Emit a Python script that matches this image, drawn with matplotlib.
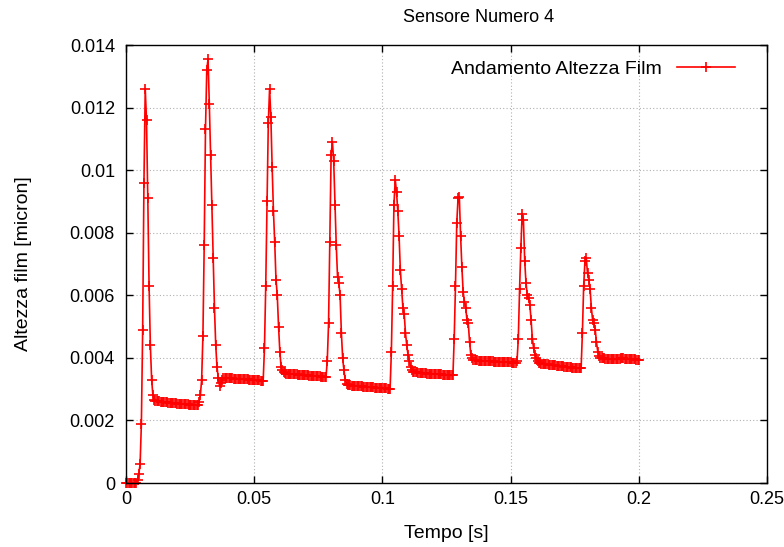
import numpy as np
import matplotlib.pyplot as plt

# altezza del film (unita' 1e-5 micron), un campione ogni 0.5 ms
altezza_e5 = [
    0, 0, 0, 0, 0, 0, 0, 0, 0, 10,                              # 0.000
    30, 60, 190, 490, 960, 1260, 1160, 910, 630, 440,           # 0.005
    330, 280, 265, 262, 262, 261, 261, 260, 260, 259,           # 0.010
    259, 258, 258, 257, 257, 256, 256, 256, 255, 255,           # 0.015
    254, 254, 253, 253, 252, 252, 251, 251, 251, 250,           # 0.020
    250, 250, 249, 249, 249, 248, 248, 260, 280, 330,           # 0.025
    470, 760, 1130, 1320, 1355, 1210, 1050, 890, 720, 560,      # 0.030
    440, 370, 335, 310, 320, 330, 336, 337, 337, 336,           # 0.035
    336, 335, 335, 335, 334, 334, 334, 333, 333, 333,           # 0.040
    332, 332, 332, 331, 331, 331, 330, 330, 330, 329,           # 0.045
    329, 329, 328, 328, 328, 327, 327, 327, 430, 630,           # 0.050
    900, 1150, 1260, 1170, 1010, 870, 770, 650, 600, 500,       # 0.055
    420, 370, 360, 355, 352, 350, 350, 349, 349, 348,           # 0.060
    348, 347, 347, 347, 346, 346, 346, 345, 345, 345,           # 0.065
    344, 344, 344, 343, 343, 343, 342, 342, 342, 341,           # 0.070
    341, 341, 340, 340, 340, 339, 339, 390, 510, 770,           # 0.075
    1050, 1090, 1030, 890, 760, 660, 640, 600, 480, 400,        # 0.080
    360, 330, 318, 313, 312, 312, 311, 311, 311, 310,           # 0.085
    310, 310, 309, 309, 309, 308, 308, 308, 307, 307,           # 0.090
    307, 306, 306, 306, 305, 305, 305, 304, 304, 304,           # 0.095
    303, 303, 303, 303, 302, 302, 302, 420, 630, 890,           # 0.100
    970, 930, 870, 790, 680, 620, 560, 540, 480, 440,           # 0.105
    410, 390, 370, 360, 356, 355, 354, 354, 353, 353,           # 0.110
    352, 352, 352, 351, 351, 350, 350, 350, 349, 349,           # 0.115
    349, 348, 348, 348, 347, 347, 347, 346, 346, 346,           # 0.120
    345, 345, 345, 344, 344, 344, 460, 630, 830, 910,           # 0.125
    915, 790, 690, 610, 580, 560, 520, 510, 450, 410,           # 0.130
    400, 393, 392, 392, 392, 391, 391, 391, 391, 390,           # 0.135
    390, 390, 390, 389, 389, 389, 389, 388, 388, 388,           # 0.140
    388, 388, 387, 387, 387, 387, 386, 386, 386, 386,           # 0.145
    386, 385, 385, 385, 385, 390, 460, 620, 750, 860,           # 0.150
    840, 710, 640, 600, 590, 570, 520, 460, 430, 410,           # 0.155
    400, 390, 383, 382, 381, 381, 380, 380, 379, 379,           # 0.160
    378, 378, 377, 377, 376, 376, 375, 375, 374, 374,           # 0.165
    373, 373, 372, 372, 371, 371, 370, 370, 369, 369,           # 0.170
    368, 368, 367, 367, 366, 366, 480, 630, 710, 720,           # 0.175
    670, 650, 620, 560, 520, 510, 490, 450, 420, 405,           # 0.180
    400, 399, 398, 398, 397, 397, 397, 396, 396, 396,           # 0.185
    395, 395, 395, 395, 396, 397, 398, 398, 398, 397,           # 0.190
    397, 397, 396, 396, 396, 395, 395, 395, 394, 394,           # 0.195
    394,                                                        # 0.200
]
passo = 0.0005

x_ticks = [0, 0.05, 0.1, 0.15, 0.2, 0.25]
x_labels = ['0', '0.05', '0.1', '0.15', '0.2', '0.25']
y_ticks = [0, 0.002, 0.004, 0.006, 0.008, 0.010, 0.012, 0.014]
y_labels = ['0', '0.002', '0.004', '0.006', '0.008', '0.01', '0.012', '0.014']

tempo = np.arange(len(altezza_e5)) * passo
altezza = np.array(altezza_e5) * 1e-5

plt.rcParams['font.family'] = ['Liberation Sans', 'DejaVu Sans']
plt.rcParams['font.size'] = 14

fig = plt.figure(figsize=(7.84, 5.47), dpi=100)
ax = fig.add_axes([126 / 784, 1 - 483 / 547, 641 / 784, 438 / 547])

ax.plot(tempo, altezza, color='red', lw=1.2, marker='+', ms=7, mew=1.2,
        label='Andamento Altezza Film', clip_on=False)

ax.set_xlim(0, 0.25)
ax.set_ylim(0, 0.014)
ax.set_xticks(x_ticks)
ax.set_xticklabels(x_labels)
ax.set_yticks(y_ticks)
ax.set_yticklabels(y_labels)
ax.tick_params(direction='in', length=5, width=1, top=True, right=True,
               labelsize=13)
ax.tick_params(axis='y', pad=8)
ax.tick_params(axis='x', pad=6)
ax.grid(True, color='#b0b0b0', linestyle=(0, (1, 2)), linewidth=0.8)
for s in ax.spines.values():
    s.set_linewidth(1)

ax.set_xlabel('Tempo [s]')
ax.set_ylabel('Altezza film [micron]')
ax.xaxis.set_label_coords(0.5, -0.095)
ax.yaxis.set_label_coords(-0.146, 0.5)

fig.text(479 / 784, 1 - 17 / 547, 'Sensore Numero 4', ha='center', va='center',
         fontsize=13)

ax.legend(loc='upper right', frameon=False, markerfirst=False, handlelength=3,
          numpoints=1, borderaxespad=0.4, bbox_to_anchor=(0.975, 1.0))

fig.savefig('out.png', dpi=100)
